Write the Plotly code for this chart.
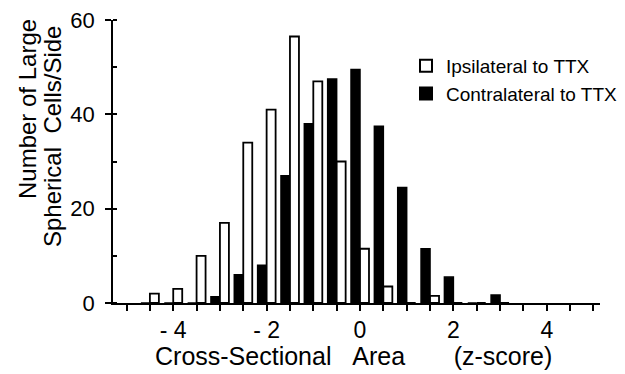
import plotly.graph_objects as go

# z-score bin centres
z_bins = [-4.5, -4.0, -3.5, -3.0, -2.5, -2.0, -1.5, -1.0, -0.5, 0.0, 0.5, 1.0, 1.5, 2.0, 2.5, 3.0]
ipsilateral = [2, 3, 10, 17, 34, 41, 56.5, 47, 30, 11.5, 3.5, 0, 1.5, 0, 0, 0]
contralateral = [0, 0, 0, 1.3, 6, 8, 27, 38, 47.5, 49.5, 37.5, 24.5, 11.5, 5.5, 0, 1.7]

x_tickvals = [-4, -2, 0, 2, 4]
x_ticktext = ["- 4", "- 2", "0", "2", "4"]
y_tickvals = [0, 20, 40, 60]

FONT = "Liberation Sans, Arial, Helvetica, sans-serif"

fig = go.Figure()
fig.add_trace(go.Bar(
    x=z_bins, y=contralateral, name="Contralateral to TTX",
    marker=dict(color="black", line=dict(color="black", width=1.5)),
))
fig.add_trace(go.Bar(
    x=z_bins, y=ipsilateral, name="Ipsilateral to TTX",
    marker=dict(color="white", line=dict(color="black", width=1.8)),
))

# page body has an 8px margin: work in screen pixels, convert to figure space
OFF = 8
W, H = 616, 365
plot_left, plot_right, plot_top, plot_bottom = 113, 600, 20, 303
L = plot_left - OFF
T = plot_top - OFF
R = W - (plot_right - OFF)
B = H - (plot_bottom - OFF)
pw, ph = W - L - R, H - T - B

def px(xs):
    return (xs - plot_left) / pw

def py(ys):
    return (plot_bottom - ys) / ph

NB = "\u00a0"
fig.update_layout(
    width=W, height=H,
    margin=dict(l=L, r=R, t=T, b=B, autoexpand=False),
    paper_bgcolor="white", plot_bgcolor="white",
    barmode="group", bargap=0.23, bargroupgap=0,
    font=dict(family=FONT, color="black", size=23),
    showlegend=True,
    legend=dict(
        x=px(406), y=py(47), xanchor="left", yanchor="top",
        traceorder="reversed", font=dict(size=19, family=FONT),
        bgcolor="rgba(0,0,0,0)", itemsizing="constant", tracegroupgap=0,
    ),
    xaxis=dict(
        range=[-5.29, 5.14], showgrid=False, zeroline=False, automargin=False,
        showline=True, linecolor="black", linewidth=1.5,
        tickmode="array", tickvals=x_tickvals, ticktext=x_ticktext,
        ticks="outside", ticklen=6, tickwidth=1.5, tickcolor="black",
        tickfont=dict(size=23), ticklabeloverflow="allow",
        minor=dict(ticks="outside", dtick=0.5, tick0=0, ticklen=6, tickwidth=1.5, tickcolor="black"),
    ),
    yaxis=dict(
        range=[0, 60], showgrid=False, zeroline=False, automargin=False,
        showline=True, linecolor="black", linewidth=1.5,
        tickmode="array", tickvals=y_tickvals,
        ticks="outside", ticklen=6, tickwidth=1.5, tickcolor="black",
        tickfont=dict(size=22), ticklabelstandoff=6, ticklabeloverflow="allow",
        minor=dict(ticks="inside", dtick=10, tick0=0, ticklen=4, tickwidth=1.5, tickcolor="black"),
    ),
    annotations=[
        dict(text="Number of Large", textangle=-90, xref="paper", yref="paper",
             x=px(27), y=py(109), xanchor="center", yanchor="middle",
             showarrow=False, font=dict(size=24, family=FONT)),
        dict(text="Spherical" + NB * 2 + "Cells/Side", textangle=-90, xref="paper", yref="paper",
             x=px(52), y=py(137), xanchor="center", yanchor="middle",
             showarrow=False, font=dict(size=24, family=FONT)),
        dict(text="Cross-Sectional" + NB * 3 + "Area" + NB * 7 + "(z-score)",
             xref="paper", yref="paper", x=px(353), y=py(356),
             xanchor="center", yanchor="middle", showarrow=False,
             font=dict(size=25, family=FONT)),
    ],
)

fig.write_html("out.html")
